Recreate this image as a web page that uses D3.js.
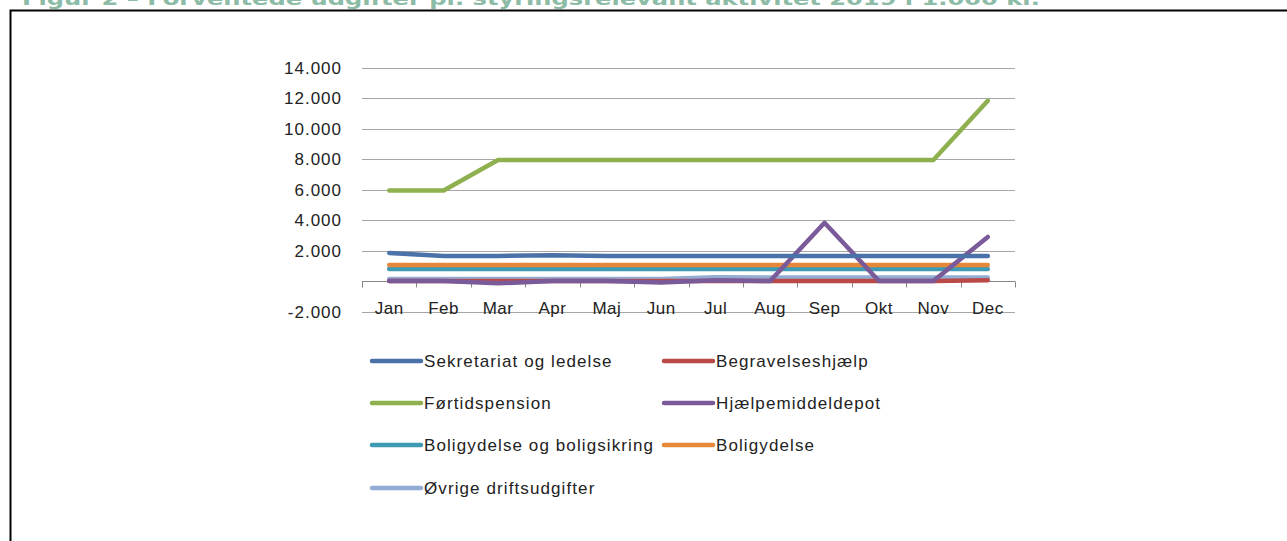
<!DOCTYPE html>
<html>
<head>
<meta charset="utf-8">
<script src="https://cdn.jsdelivr.net/npm/d3@7"></script>
<style>
  body { margin: 0; background: #fff; }
  svg { display: block; }
</style>
</head>
<body>
<div id="chart"></div>
<script>
var w = 1287
var h = 541

// months on the x axis
var months = ["Jan", "Feb", "Mar", "Apr", "Maj", "Jun", "Jul", "Aug", "Sep", "Okt", "Nov", "Dec"]
var yTicks = [-2000, 0, 2000, 4000, 6000, 8000, 10000, 12000, 14000]

// values, in 1.000 kr.
var sekretariat = [1850, 1650, 1650, 1700, 1650, 1650, 1650, 1650, 1650, 1650, 1650, 1650]
var begravelse = [0, 0, 0, 0, 0, 0, 0, 0, 0, 0, 0, 60]
var fortid = [5950, 5950, 7950, 7950, 7950, 7950, 7950, 7950, 7950, 7950, 7950, 11850]
var hjaelp = [0, 0, -150, 0, 0, -100, 60, 0, 3830, 0, 0, 2900]
var boligsikring = [790, 790, 790, 790, 790, 790, 790, 790, 790, 790, 790, 790]
var boligydelse = [1050, 1050, 1050, 1050, 1050, 1050, 1050, 1050, 1050, 1050, 1050, 1050]
var ovrige = [130, 130, 130, 130, 130, 130, 250, 240, 240, 240, 240, 240]

var seriesNames = ["Sekretariat og ledelse", "Begravelseshjælp", "Førtidspension", "Hjælpemiddeldepot",
  "Boligydelse og boligsikring", "Boligydelse", "Øvrige driftsudgifter"]
var seriesColors = ["#4a72a8", "#b94a48", "#8fb04f", "#7a5a98", "#3f9ab3", "#e5883a", "#93acd4"]
var seriesData = [sekretariat, begravelse, fortid, hjaelp, boligsikring, boligydelse, ovrige]

var left = 362, right = 1015
var fontFam = "'Liberation Sans', Arial, sans-serif"

var svg = d3.select("#chart").append("svg")
  .attr("width", w)
  .attr("height", h)

// title, cut off at the top like the source
svg.append("text")
  .attr("x", 22)
  .attr("y", 5)
  .attr("fill", "#8cbba6")
  .style("font-family", "'DejaVu Sans', Verdana, sans-serif")
  .style("font-weight", "bold")
  .style("font-size", "17px")
  .attr("textLength", 1018)
  .attr("lengthAdjust", "spacingAndGlyphs")
  .text("Figur 2 – Forventede udgifter pr. styringsrelevant aktivitet 2019 i 1.000 kr.")

// frame
svg.append("rect")
  .attr("x", 10.5)
  .attr("y", 10.5)
  .attr("width", w)
  .attr("height", h)
  .attr("fill", "none")
  .attr("stroke", "#000")
  .attr("stroke-width", 2)

var x = d3.scaleBand().domain(months).range([left, right])
var y = d3.scaleLinear().domain([-2000, 14000]).range([311.5, 68])

// gridlines
svg.append("g").selectAll("line")
  .data(yTicks.filter(function(d){ return d != 0 }))
  .enter().append("line")
  .attr("x1", left)
  .attr("x2", right)
  .attr("y1", function(d){ return Math.round(y(d)) + 0.5 })
  .attr("y2", function(d){ return Math.round(y(d)) + 0.5 })
  .attr("stroke", "#a6a6a6")
  .attr("stroke-width", 1)

// y labels
svg.append("g").selectAll("text")
  .data(yTicks.filter(function(d){ return d != 0 }))
  .enter().append("text")
  .attr("x", 342)
  .attr("y", function(d){ return y(d) + 6 })
  .attr("text-anchor", "end")
  .attr("fill", "#222")
  .style("font-family", fontFam)
  .style("font-size", "17px")
  .style("letter-spacing", "1px")
  .text(function(d){ return d3.format(",")(d).replace(/,/g, ".").replace("−", "-") })

// zero axis with ticks
var y0 = Math.round(y(0)) + 0.5
svg.append("line")
  .attr("x1", left).attr("x2", right)
  .attr("y1", y0).attr("y2", y0)
  .attr("stroke", "#868686")
svg.append("g").selectAll("line")
  .data(d3.range(months.length + 1))
  .enter().append("line")
  .attr("x1", function(i){ return Math.round(left + i * x.step()) + 0.5 })
  .attr("x2", function(i){ return Math.round(left + i * x.step()) + 0.5 })
  .attr("y1", y0)
  .attr("y2", y0 + 6)
  .attr("stroke", "#868686")

// month labels
svg.append("g").selectAll("text")
  .data(months)
  .enter().append("text")
  .attr("x", function(d){ return x(d) + x.bandwidth() / 2 })
  .attr("y", 314)
  .attr("text-anchor", "middle")
  .attr("fill", "#222")
  .style("font-family", fontFam)
  .style("font-size", "17px")
  .style("letter-spacing", "0.5px")
  .text(function(d){ return d })

var line = d3.line()
  .x(function(d, i){ return x(months[i]) + x.bandwidth() / 2 })
  .y(function(d){ return y(d) })

// draw order: later series on top as in excel
var order = [6, 4, 5, 1, 3, 0, 2]
svg.append("g").selectAll("path")
  .data(order)
  .enter().append("path")
  .attr("d", function(k){ return line(seriesData[k]) })
  .attr("fill", "none")
  .attr("stroke", function(k){ return seriesColors[k] })
  .attr("stroke-width", 4.5)
  .attr("stroke-linecap", "round")
  .attr("stroke-linejoin", "round")

// legend, two columns
var legX = [370, 662]
var legY = [361, 403, 445, 488]
var leg = svg.append("g").selectAll("g")
  .data(seriesNames)
  .enter().append("g")
  .attr("transform", function(d, i){ return "translate(" + legX[i % 2] + "," + legY[Math.floor(i / 2)] + ")" })
leg.append("line")
  .attr("x1", 2).attr("x2", 51)
  .attr("y1", 0).attr("y2", 0)
  .attr("stroke", function(d, i){ return seriesColors[i] })
  .attr("stroke-width", 4.5)
  .attr("stroke-linecap", "round")
leg.append("text")
  .attr("x", 54)
  .attr("y", 6)
  .attr("fill", "#222")
  .style("font-family", fontFam)
  .style("font-size", "17px")
  .style("letter-spacing", "1.1px")
  .text(function(d){ return d })
</script>
</body>
</html>
